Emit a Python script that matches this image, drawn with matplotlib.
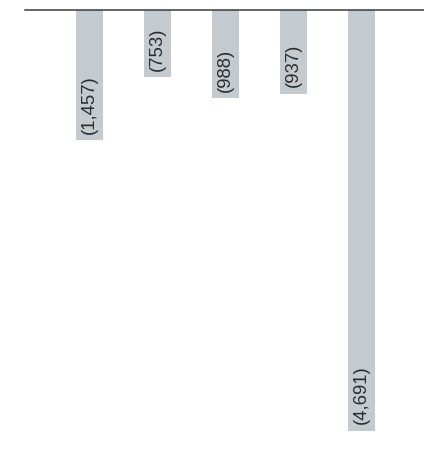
import matplotlib
matplotlib.use("Agg")
import matplotlib.pyplot as plt

# Annual values (negative amounts shown in parentheses)
categories = ["A", "B", "C", "D", "E"]
values = [-1457, -753, -988, -937, -4691]
labels = ["(1,457)", "(753)", "(988)", "(937)", "(4,691)"]

W, H = 424, 453
fig = plt.figure(figsize=(W / 100, H / 100), dpi=100)
ax = fig.add_axes([25 / W, 1 - 430.7 / H, (W - 25) / W, 421.2 / H])

x = list(range(len(categories)))
ax.bar(x, values, width=0.4, color="#c3cbd1", linewidth=0, zorder=1)

ax.set_xlim(-0.946, 4.922)
ax.set_ylim(min(values), 0)

# Baseline along the top
ax.axhline(0, color="#3a3a3a", linewidth=1.1, zorder=3, clip_on=False)

# Value labels, rotated, sitting at the bottom end of each bar
pad = 70
for xi, v, lab in zip(x, values, labels):
    ax.text(xi, v + pad, lab, rotation=90, ha="center", va="bottom",
            fontsize=13.3, color="#2b2b2b", family="Liberation Sans", zorder=4)

for s in ax.spines.values():
    s.set_visible(False)
ax.set_xticks([])
ax.set_yticks([])
ax.patch.set_alpha(0)

fig.savefig("out.png", dpi=100)
